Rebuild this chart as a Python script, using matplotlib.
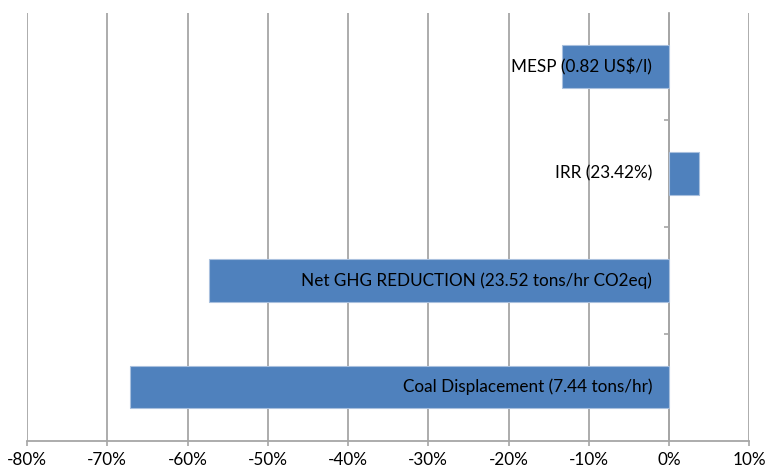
import matplotlib
matplotlib.use("Agg")
import matplotlib.pyplot as plt
from matplotlib.ticker import FuncFormatter

# Sensitivity results (fractional change)
labels = [
    "Coal Displacement (7.44 tons/hr)",
    "Net GHG REDUCTION (23.52 tons/hr CO2eq)",
    "IRR (23.42%)",
    "MESP (0.82 US$/l)",
]
changes = [-0.672, -0.573, 0.037, -0.133]
x_ticks = [-0.8, -0.7, -0.6, -0.5, -0.4, -0.3, -0.2, -0.1, 0.0, 0.1]

plt.rcParams["font.family"] = ["Lato", "DejaVu Sans"]

fig = plt.figure(figsize=(7.67, 4.73), dpi=100)
ax = fig.add_axes([0.0352, 0.0687, 0.9418, 0.9033])

grid_color = "#a6a6a6"
bar_color = "#4f81bd"

ypos = list(range(len(labels)))
ax.barh(ypos, changes, height=0.4, color=bar_color, edgecolor="#a9c0de",
        linewidth=0.8, zorder=3)

for y, text in zip(ypos, labels):
    ax.annotate(text, xy=(0, y), xytext=(-17, 0), textcoords="offset pixels",
                ha="right", va="center", fontsize=12.3, color="black", zorder=4)

ax.set_xlim(x_ticks[0], x_ticks[-1])
ax.set_ylim(-0.5, len(labels) - 0.5)
ax.set_xticks(x_ticks)
ax.xaxis.set_major_formatter(FuncFormatter(lambda v, _: f"{round(v * 100):d}%"))
ax.tick_params(axis="x", length=3.6, width=1.2, color=grid_color, labelsize=12.3,
               pad=5, labelcolor="black")

for v in x_ticks:
    ax.axvline(v, color=grid_color, linewidth=1.3, zorder=1)

# category axis sits at zero with small boundary ticks
ax.spines["left"].set_position(("data", 0))
ax.spines["left"].set_color(grid_color)
ax.spines["left"].set_linewidth(1.3)
ax.spines["left"].set_zorder(2)
ax.set_yticks([y + 0.5 for y in ypos[:-1]])
ax.set_yticklabels([])
ax.tick_params(axis="y", length=3.6, width=1.2, color=grid_color, direction="out")

ax.spines["bottom"].set_color(grid_color)
ax.spines["bottom"].set_linewidth(1.3)
ax.spines["top"].set_visible(False)
ax.spines["right"].set_visible(False)

fig.savefig("out.png", dpi=100)
